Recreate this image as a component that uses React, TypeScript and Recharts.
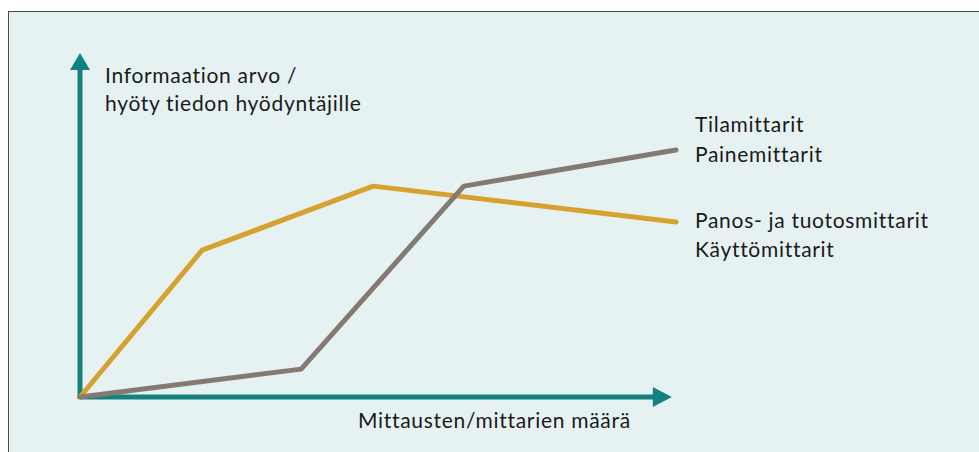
import React from 'react';
import { ComposedChart, Line, XAxis, YAxis, ReferenceLine, Customized } from 'recharts';

// Relative positions (0–100)
const valueLine = [
  { x: 0, y: 0 },
  { x: 20.5, y: 42.7 },
  { x: 49.2, y: 61.3 },
  { x: 100, y: 50.9 },
];

const countLine = [
  { x: 0, y: 0 },
  { x: 37.1, y: 8.1 },
  { x: 64.4, y: 61.3 },
  { x: 100, y: 71.8 },
];

const yTitle = ['Informaation arvo /', 'hyöty tiedon hyödyntäjille'];
const xTitle = 'Mittausten/mittarien määrä';
const countLabels = ['Tilamittarit', 'Painemittarit'];
const valueLabels = ['Panos- ja tuotosmittarit', 'Käyttömittarit'];

const TEAL = '#13817d';
const GOLD = '#d6a22f';
const GREY = '#857a72';
const FONT = 'Lato, "Open Sans", sans-serif';

const XArrow = (props: any) => {
  const { x1, y1, x2 } = props;
  return (
    <g>
      <line x1={x1} y1={y1} x2={x2 - 18} y2={y1} stroke={TEAL} strokeWidth={5} />
      <polygon points={`${x2},${y1} ${x2 - 19},${y1 - 10} ${x2 - 19},${y1 + 10}`} fill={TEAL} />
    </g>
  );
};

const YArrow = (props: any) => {
  const { x1, y1, y2 } = props;
  const top = Math.min(y1, y2);
  const bottom = Math.max(y1, y2);
  return (
    <g>
      <line x1={x1} y1={bottom + 2} x2={x1} y2={top + 16} stroke={TEAL} strokeWidth={5} />
      <polygon points={`${x1},${top} ${x1 - 10},${top + 17} ${x1 + 10},${top + 17}`} fill={TEAL} />
    </g>
  );
};

const Labels = () => (
  <g fontFamily={FONT} fontSize={21} letterSpacing={0.7} fill="#1a1a1a">
    <text x={105} y={83}>{yTitle[0]}</text>
    <text x={105} y={111}>{yTitle[1]}</text>
    <text x={358} y={428}>{xTitle}</text>
    <text x={695} y={132}>{countLabels[0]}</text>
    <text x={695} y={162}>{countLabels[1]}</text>
    <text x={695} y={228}>{valueLabels[0]}</text>
    <text x={695} y={257}>{valueLabels[1]}</text>
  </g>
);

export default function App() {
  return (
    <div style={{ position: 'absolute', left: 0, top: 0, width: 979, height: 452, overflow: 'hidden', background: '#fff' }}>
      <div
        style={{
          position: 'absolute',
          left: 8,
          top: 11,
          width: 990,
          height: 460,
          background: '#e6f2f2',
          border: '1px solid #4a4a4a',
        }}
      />
      <div style={{ position: 'absolute', left: 0, top: 0 }}>
        <ComposedChart width={979} height={452} margin={{ top: 53, right: 303, bottom: 55, left: 80 }}>
          <XAxis type="number" dataKey="x" domain={[0, 100]} hide />
          <YAxis type="number" dataKey="y" domain={[0, 100]} hide />
          <ReferenceLine segment={[{ x: 0, y: 0 }, { x: 99.3, y: 0 }]} shape={XArrow} ifOverflow="visible" />
          <ReferenceLine segment={[{ x: 0, y: 0 }, { x: 0, y: 100 }]} shape={YArrow} ifOverflow="visible" />
          <Line
            data={valueLine}
            dataKey="y"
            type="linear"
            stroke={GOLD}
            strokeWidth={5}
            strokeLinecap="round"
            strokeLinejoin="round"
            dot={false}
            isAnimationActive={false}
          />
          <Line
            data={countLine}
            dataKey="y"
            type="linear"
            stroke={GREY}
            strokeWidth={5}
            strokeLinecap="round"
            strokeLinejoin="round"
            dot={false}
            isAnimationActive={false}
          />
          <Customized component={Labels} />
        </ComposedChart>
      </div>
    </div>
  );
}
